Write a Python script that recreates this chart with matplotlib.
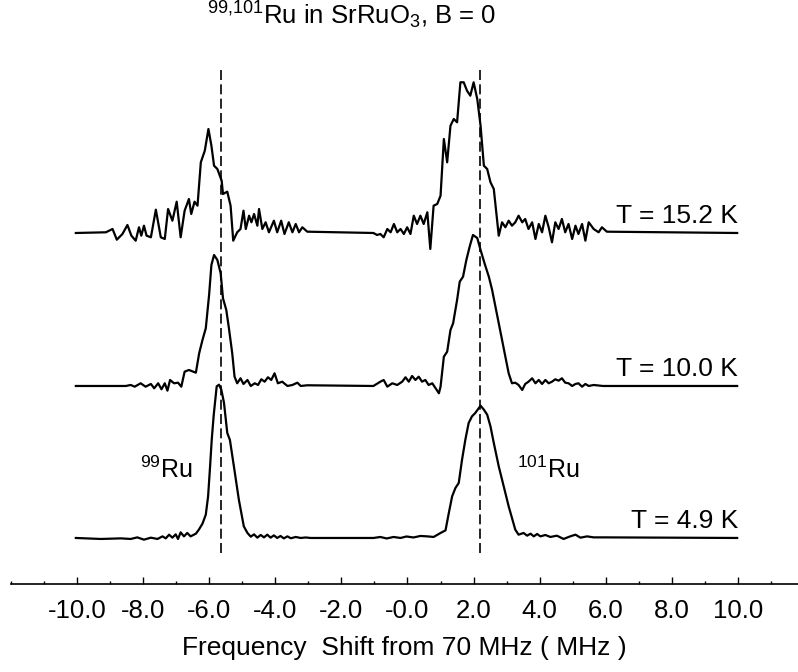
import numpy as np
import matplotlib
matplotlib.use("Agg")
import matplotlib.pyplot as plt
from matplotlib.ticker import FixedLocator, FixedFormatter, MultipleLocator

plt.rcParams["font.family"] = ["Liberation Sans", "DejaVu Sans"]
plt.rcParams["mathtext.fontset"] = "custom"
plt.rcParams["mathtext.rm"] = "Liberation Sans"
plt.rcParams["mathtext.default"] = "regular"

# ── spectra (frequency shift in MHz, signal in arb. units) ──
F_152 = [-10.03, -9.12, -8.92, -8.79, -8.62, -8.47, -8.35, -8.22, -8.12, -8.05,
         -7.97, -7.89, -7.76, -7.61, -7.46, -7.34, -7.24, -7.11, -6.98, -6.86,
         -6.74, -6.61, -6.54, -6.44, -6.35, -6.25, -6.13, -6.02, -5.93, -5.85,
         -5.75, -5.62, -5.58, -5.45, -5.35, -5.27, -5.15, -5.05, -4.96, -4.89,
         -4.79, -4.72, -4.64, -4.54, -4.49, -4.39, -4.29, -4.19, -4.04, -3.94,
         -3.82, -3.72, -3.59, -3.48, -3.38, -3.28, -3.18, -3.03, -1.03, -0.92,
         -0.82, -0.72, -0.61, -0.51, -0.41, -0.31, -0.21, -0.11, -0.01, 0.09,
         0.19, 0.29, 0.39, 0.49, 0.60, 0.69, 0.79, 0.90, 1.00, 1.10,
         1.20, 1.30, 1.40, 1.50, 1.60, 1.70, 1.80, 1.90, 2.00, 2.11,
         2.21, 2.31, 2.41, 2.51, 2.61, 2.76, 2.86, 2.96, 3.06, 3.16,
         3.26, 3.36, 3.47, 3.56, 3.66, 3.77, 3.87, 3.97, 4.07, 4.17,
         4.27, 4.37, 4.47, 4.57, 4.67, 4.77, 4.87, 4.98, 5.08, 5.17,
         5.28, 5.38, 5.48, 5.63, 5.78, 5.88, 6.03, 9.97]
S_152 = [0, 0.7, 4, -6.7, -1, 8, -2.7, -7.7, 5.7, -2.7,
         7.3, -2.7, -4.3, 23.3, -4.3, -6, 24, 12.3, 31.3, -4.3,
         22.3, 34, 19, 31.3, 27.3, 70.7, 82.3, 104, 87.3, 67.3,
         64, 52.3, 39, 41.3, 27.3, -7.7, 0.7, 4, 22.3, 4,
         17.3, 10.7, 19, 7.3, 24, 4, 10.7, 0.7, 12.3, 0.7,
         12.3, -1, 10.7, 0.7, 9, 0.7, 5.7, 1.3, 0, -2,
         -1, -4.3, 4, 0.7, 9, 0.7, 4, -1, 5.7, -1,
         17.3, 9, 17.3, 9, 20.7, -16, 27.3, 29, 37.3, 94,
         70.7, 107.3, 114, 110.7, 150.7, 150.7, 142.3, 137.3, 150.7, 134,
         107.3, 67.3, 64, 50.7, 44, -2.7, 10.7, 5.7, 12.3, 7.3,
         10.7, 17.3, 10.7, 14, 4, 10.7, -6, 9, 0.7, 17.3,
         5.7, -9.3, 10.7, 4, 14, 0.7, 9, -6, 7.3, -1,
         9, -7.7, 10.7, 4, 0.7, 5.7, 1.3, 0]

F_100 = [-10.03, -8.52, -8.37, -8.25, -8.07, -7.92, -7.76, -7.66, -7.54, -7.44,
         -7.34, -7.26, -7.18, -7.06, -6.94, -6.84, -6.74, -6.61, -6.40, -6.30,
         -6.20, -6.10, -6.00, -5.93, -5.85, -5.75, -5.65, -5.58, -5.48, -5.40,
         -5.30, -5.23, -5.15, -5.05, -4.96, -4.84, -4.74, -4.62, -4.52, -4.42,
         -4.32, -4.22, -4.12, -4.02, -3.92, -3.79, -3.63, -3.48, -3.33, -3.23,
         -3.03, -1.03, -0.82, -0.72, -0.61, -0.46, -0.31, -0.16, -0.06, 0.04,
         0.14, 0.24, 0.34, 0.44, 0.54, 0.64, 0.75, 0.85, 0.95, 1.00,
         1.10, 1.20, 1.30, 1.38, 1.50, 1.58, 1.68, 1.78, 1.88, 1.98,
         2.11, 2.21, 2.33, 2.46, 2.56, 2.66, 2.76, 2.86, 2.96, 3.06,
         3.16, 3.26, 3.36, 3.47, 3.56, 3.66, 3.77, 3.87, 3.97, 4.07,
         4.17, 4.27, 4.37, 4.47, 4.57, 4.67, 4.77, 4.87, 4.98, 5.08,
         5.17, 5.28, 5.38, 5.48, 5.63, 5.91, 9.97]
S_100 = [0, 0, 1, -0.7, 2.7, -0.7, 2, -2.3, 2.7, -3.3,
         2.7, -4.7, 6, 2.7, 3.3, -0.7, 14.3, 16, 13.3, 32.7,
         46, 57.7, 91, 121, 131, 126, 112.7, 87.7, 76, 57.7,
         32.7, 9.3, 2.7, 7.7, 2, 6, 0, 2.7, 1, 6.7,
         4.3, 8.7, 6, 12.7, 2.7, 4.3, 0, 1, 3.3, 0,
         0.7, 0, 4.3, 6, -0.7, 2.7, 1, 4.3, 8.7, 4.3,
         10, 6, 9.3, 4.3, 6, 1, 2.7, -2.3, -7.3, -0.7,
         29.3, 34.3, 56, 62.7, 86, 104.3, 109.3, 126, 139.3, 151,
         148, 136, 122.7, 109.3, 96, 79.3, 62.7, 46, 29.3, 12.7,
         2.7, 3.3, 1, -4, 2, 4.3, 7.7, 2.7, 6, 2,
         6, 2.7, 4.3, 6.7, 5.3, 7.7, 3.3, 2.7, 0, 2,
         2.7, -0.7, 2, 0, 1, 0, 0]

F_49 = [-10.03, -9.27, -8.67, -8.37, -8.17, -7.97, -7.76, -7.56, -7.41, -7.31,
        -7.21, -7.11, -7.01, -6.94, -6.86, -6.76, -6.66, -6.56, -6.40, -6.31,
        -6.20, -6.10, -6.03, -5.97, -5.92, -5.86, -5.77, -5.70, -5.63, -5.55,
        -5.45, -5.37, -5.25, -5.10, -4.95, -4.84, -4.74, -4.64, -4.54, -4.44,
        -4.34, -4.24, -4.14, -4.04, -3.94, -3.84, -3.74, -3.63, -3.53, -3.38,
        -3.23, -3.08, -2.93, -1.03, -0.82, -0.63, -0.42, -0.21, -0.03, 0.18,
        0.39, 0.60, 0.79, 1.00, 1.15, 1.25, 1.35, 1.45, 1.55, 1.65,
        1.75, 1.85, 1.95, 2.05, 2.21, 2.31, 2.41, 2.51, 2.61, 2.76,
        2.86, 2.96, 3.06, 3.16, 3.26, 3.36, 3.51, 3.62, 3.72, 3.82,
        3.92, 4.02, 4.17, 4.32, 4.52, 4.72, 4.92, 5.08, 5.23, 5.43,
        5.63, 5.93, 9.97]
S_49 = [0, -1, -0.4, -1, 0.6, -1.7, 0.3, -1, 1.6, -0.4,
        3.3, 0.3, 3.6, -1, 5.6, 1.6, 5, 1.6, 4.3, 8.3,
        14.3, 23.3, 41.6, 71.6, 98.3, 123, 151.6, 153.3, 148.3, 135.3,
        105, 98, 71.6, 38.3, 11.6, 5, 1.3, 3.6, 0.3, 3,
        0.6, 3.3, 0.3, 2.6, 0, 2, -0.4, 1.6, -0.3, 1,
        0, 0.5, 0, 0, 1, -0.5, 1, 0, 1.5, 0.5,
        2, 1.6, 1, 5, 7.6, 25, 41.6, 50, 55, 78.3,
        98.3, 115, 121.6, 125, 132.3, 128.3, 123.3, 111.6, 95, 71.6,
        58.3, 45, 31.6, 20, 8.3, 3.3, 5, 2.3, 4.3, 1.6,
        4, 1.6, 3, 1, 2.3, -1, 1.6, 3.3, 0.3, 1.6,
        0.6, 0.6, 0]

TEMPS = ["T = 15.2 K", "T = 10.0 K", "T = 4.9 K"]
REF_LINES = [-5.63, 2.20]
TICKS = [-10, -8, -6, -4, -2, 0, 2, 4, 6, 8, 10]
TICK_LABELS = ["-10.0", "-8.0", "-6.0", "-4.0", "-2.0", "-0.0",
               "2.0", "4.0", "6.0", "8.0", "10.0"]

fig = plt.figure(figsize=(7.98, 6.72), dpi=100)
ax = fig.add_axes([0.0134, 0.131, 0.9866, 0.869])

offsets = [351, 198, 46]
for f, s, off, lab in zip([F_152, F_100, F_49], [S_152, S_100, S_49], offsets, TEMPS):
    ax.plot(f, np.array(s) + off, color="black", linewidth=1.6)
    ax.text(10.0, off + 10, lab, ha="right", va="baseline", fontsize=19)

ax.vlines(REF_LINES, 31, 518, colors="black", linewidth=1.2,
          linestyles=(0, (6, 2.6)))

ax.text(-8.10, 106, r"$^{99}$Ru", fontsize=18, ha="left", va="baseline")
ax.text(3.32, 106, r"$^{101}$Ru", fontsize=18, ha="left", va="baseline")

fig.text(0.440, 0.963, r"$^{99{,}101}$Ru in SrRuO$_3$, B = 0",
         fontsize=18.5, ha="center", va="baseline")

ax.set_xlim(-12.0, 11.81)
ax.set_ylim(0, 584)
ax.spines[["top", "right", "left"]].set_visible(False)
ax.spines["bottom"].set_linewidth(1.2)
ax.set_yticks([])
ax.xaxis.set_major_locator(FixedLocator(TICKS))
ax.xaxis.set_major_formatter(FixedFormatter(TICK_LABELS))
ax.xaxis.set_minor_locator(MultipleLocator(1))
ax.tick_params(axis="x", which="major", direction="in", length=5, width=1,
               labelsize=18.5, pad=11)
ax.tick_params(axis="x", which="minor", direction="in", length=2.5, width=1)
ax.set_xlabel("Frequency  Shift from 70 MHz ( MHz )", fontsize=19, labelpad=9)

fig.savefig("out.png", dpi=100)
